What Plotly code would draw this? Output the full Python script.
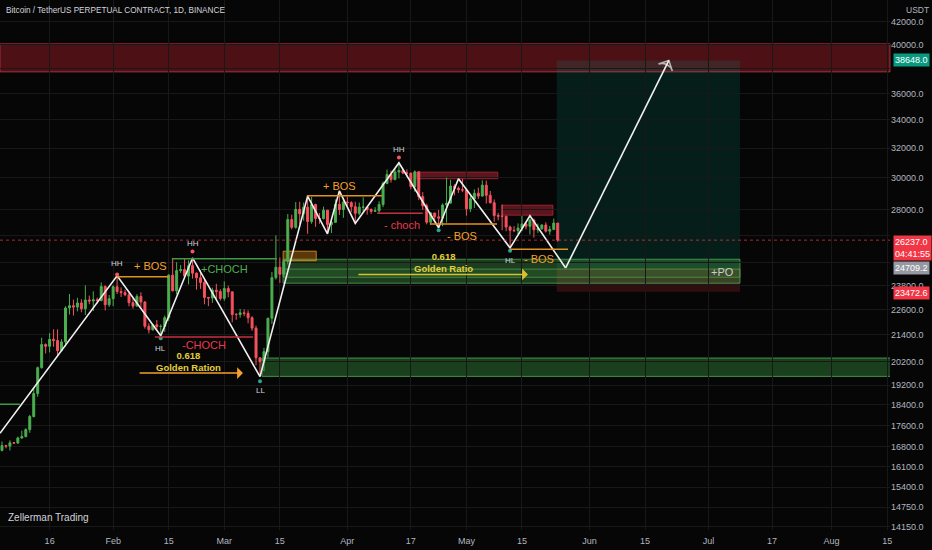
import numpy as np
import pandas as pd
import plotly.graph_objects as go

# BTCUSDT perp, daily candles 4 Jan - 24 May 2023
dates = pd.date_range('2023-01-04', '2023-05-24', freq='D')

opens = [
    16675, 16850, 16830, 16950, 16943, 17127, 17180, 17440, 17940, 18850, 19930, 20950, 20870, 21185,
    21130, 20675, 21070, 22670, 22780, 22710, 22915, 22630, 23060, 23010, 23075, 23030, 23740, 22825,
    23125, 23730, 23490, 23430, 23325, 22930, 22760, 23240, 22960, 21795, 21625, 21860, 21780, 21785,
    22200, 24330, 23520, 24570, 24630, 24280, 24835, 24435, 24190, 23945, 23190, 23160, 23555, 23490,
    23140, 23640, 23470, 22355, 22350, 22430, 22410, 22195, 21705, 20360, 20190, 20630, 22170, 24200,
    24750, 24380, 25055, 27430, 26970, 28040, 27770, 28170, 27310, 28330, 27490, 27490, 27990, 27140,
    27265, 28350, 28030,
    28480, 28450, 28200, 27800, 28170, 28170, 28030, 27920, 27950, 28330, 29650, 30230, 29890, 30390,
    30490, 30320, 30320, 29450, 30400, 28820, 28250, 27270, 27820, 27590, 27510, 28300, 28420, 29480,
    29340, 29250,
    29230, 28070, 28680, 29030, 28850, 29540, 28900, 28440, 27670, 27630, 27620, 26990, 26800, 26780,
    26930, 27170, 27030, 27400, 26830, 26890, 27110, 26750, 26850, 27220,
]
highs = [
    17000, 16880, 17040, 16980, 17180, 17400, 17490, 18000, 19100, 19980, 21260, 21000, 21470, 21650,
    21650, 21190, 22750, 23360, 23080, 23170, 23100, 23800, 23280, 23500, 23180, 23950, 23800, 23310,
    23800, 24250, 23700, 23580, 23440, 23160, 23350, 23450, 23010, 21930, 21890, 22090, 21880, 22300,
    24380, 25250, 25020, 24870, 25190, 25120, 25250, 24470, 24600, 24130, 23210, 23680, 23880, 23600,
    24000, 23780, 23480, 22420, 22620, 22600, 22550, 22270, 21820, 20370, 20800, 22200, 24500, 26500,
    25270, 25200, 27760, 27720, 28480, 28500, 28450, 28850, 28800, 28380, 27820, 28200, 28000, 27500,
    28650, 29180, 28650,
    28820, 28530, 28500, 28450, 28780, 28190, 28100, 28170, 28530, 29770, 30550, 30480, 30600, 31000,
    30620, 30560, 30330, 30490, 30410, 29100, 28380, 27880, 27820, 28000, 28400, 30020, 29880, 29600,
    29450, 29950,
    29330, 28880, 29270, 29380, 29850, 29830, 29170, 28640, 27830, 28330, 27650, 27070, 27040, 27200,
    27650, 27270, 27480, 27480, 27190, 27150, 27270, 27050, 27480, 27220,
]
lows = [
    16640, 16750, 16675, 16910, 16910, 17100, 17150, 17320, 17900, 18720, 19890, 20550, 20600, 20850,
    20400, 20660, 20860, 22350, 22300, 22500, 22460, 22330, 22850, 22520, 22880, 23000, 22550, 22720,
    22760, 23360, 23210, 23250, 22750, 22630, 22740, 22680, 21680, 21460, 21590, 21630, 21350, 21530,
    22050, 23500, 23340, 24450, 24220, 23850, 24150, 23580, 23620, 22850, 22760, 22920, 23100, 23030,
    23020, 23200, 21980, 22100, 22200, 22270, 21930, 21580, 20040, 19550, 19780, 20370, 21900, 24100,
    23930, 24220, 24900, 26850, 26890, 27160, 27360, 26600, 27180, 27000, 27180, 27430, 26600, 26640,
    27240, 27700, 27530,
    28250, 27860, 27200, 27680, 27830, 27720, 27770, 27880, 27800, 28170, 29600, 29700, 29880, 29970,
    30240, 30120, 29280, 29120, 28600, 28000, 27150, 27130, 27350, 26950, 27040, 27250, 28380, 28900,
    29050, 29100,
    27660, 27880, 28120, 28680, 28820, 28390, 28400, 27300, 27380, 26800, 26750, 25800, 26700, 26580,
    26750, 26850, 26560, 26380, 26650, 26830, 26670, 26550, 26810, 26150,
]
closes = [
    16850, 16830, 16950, 16943, 17127, 17180, 17440, 17940, 18850, 19930, 20950, 20870, 21185, 21130,
    20675, 21070, 22670, 22780, 22710, 22915, 22630, 23060, 23010, 23075, 23030, 23740, 22825, 23125,
    23730, 23490, 23430, 23325, 22930, 22760, 23240, 22960, 21795, 21625, 21860, 21780, 21785, 22200,
    24330, 23520, 24570, 24630, 24280, 24835, 24435, 24190, 23945, 23190, 23160, 23555, 23490, 23140,
    23640, 23470, 22355, 22350, 22430, 22410, 22195, 21705, 20360, 20190, 20630, 22170, 24200, 24750,
    24380, 25055, 27430, 26970, 28040, 27770, 28170, 27310, 28330, 27490, 27490, 27990, 27140, 27265,
    28350, 28030, 28480,
    28450, 28200, 27800, 28170, 28170, 28030, 27920, 27950, 28330, 29650, 30230, 29890, 30390, 30490,
    30320, 30320, 29450, 30400, 28820, 28250, 27270, 27820, 27590, 27510, 28300, 28420, 29480, 29340,
    29250, 29230,
    28070, 28680, 29030, 28850, 29540, 28900, 28440, 27670, 27630, 27620, 26990, 26800, 26780, 26930,
    27170, 27030, 27400, 26830, 26890, 27110, 26750, 26850, 27220, 26237,
]

# market structure zig-zag drawn by the author
zz_dates = ['2023-01-03 12:00', '2023-02-02', '2023-02-13', '2023-02-21', '2023-03-10', '2023-03-22',
            '2023-03-27', '2023-03-30', '2023-04-03', '2023-04-14', '2023-04-24', '2023-04-29',
            '2023-05-12', '2023-05-17', '2023-05-26']
zz_prices = [17300, 24300, 21350, 25250, 19550, 28850, 26600, 29180, 27200, 31000, 26950, 29950,
             25800, 27650, 24709.2]
target_date = '2023-06-21'
target_price = 38648.0
entry_price = 24709.2
stop_price = 23472.6
last_price = 26237.0

# pivot labels
piv_text = ['HH', 'HL', 'HH', 'LL', 'HH', 'HL']
piv_dates = ['2023-02-02', '2023-02-13', '2023-02-21', '2023-03-10', '2023-04-14', '2023-05-12']
piv_label_prices = [24950, 20790, 26060, 18990, 31930, 25120]
dot_dates = ['2023-02-02', '2023-02-13', '2023-02-21', '2023-03-10', '2023-04-14', '2023-04-24', '2023-05-12']
dot_prices = [24370, 21240, 25600, 19360, 31350, 26800, 25640]
dot_colors = ['#f7525f', '#26a69a', '#f7525f', '#26a69a', '#f7525f', '#26a69a', '#26a69a']

# zones (price bands)
supply_zone = [37710, 40060]
demand_zone = [19560, 20350]
demand_start = '2023-03-10 12:00'
golden_zone = [23910, 25180]
golden_inner = [24220, 24650]
golden_start = '2023-03-15 19:00'
box_start = '2023-05-23 18:00'
box_end = '2023-07-08 22:00'
far_right = '2023-09-01'
ob_zone = ['2023-03-15 20:00', '2023-03-24 04:00', 25100, 25620]
bear_ob1 = ['2023-04-18 12:00', '2023-05-08 22:00', 29950, 30380]
bear_ob2 = ['2023-05-09 22:00', '2023-05-22 19:00', 27690, 28290]

# structure lines: start, end, price, colour
struct_lines = [
    ('2023-01-01', '2023-01-08 12:00', 18420, '#3f9a45'),
    ('2023-02-02', '2023-02-15', 24250, '#e0921f'),
    ('2023-02-15 19:00', '2023-03-14 07:00', 25200, '#3f9a45'),
    ('2023-02-11 12:00', '2023-03-08 06:00', 21290, '#c8303f'),
    ('2023-03-21 19:00', '2023-04-09 17:00', 28880, '#e0921f'),
    ('2023-04-08 12:00', '2023-04-20 00:00', 27810, '#c8303f'),
    ('2023-04-21 19:00', '2023-05-08 17:00', 27160, '#e0921f'),
    ('2023-05-12 00:00', '2023-05-26 14:00', 25730, '#e0921f'),
]

# text notes
note_text = ['+ BOS', '+CHOCH', '-CHOCH', '+ BOS', '- choch', '- BOS', '- BOS', '+PO']
note_dates = ['2023-02-10 07:00', '2023-03-01', '2023-02-24', '2023-03-30', '2023-04-14 19:00',
              '2023-04-30', '2023-05-19 07:00', '2023-07-04 14:00']
note_prices = [24800, 24640, 20930, 29470, 27100, 26460, 25180, 24480]
note_colors = ['#f5a02a', '#4caf50', '#e8384f', '#f5a02a', '#e8384f', '#f5a02a', '#f5a02a', '#c8cbd2']

fib_text = ['<b>0.618<br>Golden Ration</b>', '<b>0.618<br>Golden Ratio</b>']
fib_dates = ['2023-02-20', '2023-04-25 07:00']
fib_prices = [20180, 24980]
fib_arrows = [('2023-02-07 07:00', '2023-03-05 17:00', 19700, '#f5a02a'),
              ('2023-04-03 10:00', '2023-05-16 12:00', 24370, '#d8c22c')]

x_ticks = ['2023-01-16', '2023-02-01', '2023-02-15', '2023-03-01', '2023-03-15', '2023-04-01',
           '2023-04-17', '2023-05-01', '2023-05-15', '2023-06-01', '2023-06-15', '2023-07-01',
           '2023-07-17', '2023-08-01', '2023-08-15']
x_labels = ['16', 'Feb', '15', 'Mar', '15', 'Apr', '17', 'May', '15', 'Jun', '15', 'Jul', '17', 'Aug', '15']
y_ticks = [42000, 40000, 38000, 36000, 34000, 32000, 30000, 28000, 26500, 25000, 23800, 22600,
           21400, 20200, 19200, 18400, 17600, 16800, 16100, 15400, 14750, 14150]
# tick labels that sit under the price tags
y_hidden = [38000, 26500, 25000]

FONT = 'Liberation Sans'
BG = '#060606'

fig = go.Figure()

fig.add_trace(go.Candlestick(
    x=dates, open=opens, high=highs, low=lows, close=closes,
    increasing=dict(line=dict(color='#4caf50', width=1), fillcolor='#4caf50'),
    decreasing=dict(line=dict(color='#f7525f', width=1), fillcolor='#f7525f'),
    whiskerwidth=0, hoverinfo='skip',
))

# zig-zag
fig.add_trace(go.Scatter(x=zz_dates, y=zz_prices, mode='lines',
                         line=dict(color='#f0f0f0', width=1.6), hoverinfo='skip'))
fig.add_trace(go.Scatter(
    x=[zz_dates[-1], target_date], y=[zz_prices[-1], target_price], mode='lines+markers',
    line=dict(color='#f0f0f0', width=1.6),
    marker=dict(symbol='arrow-wide-open', size=[0, 11], angleref='previous',
                color='#f0f0f0', line=dict(color='#f0f0f0', width=1.5)),
    hoverinfo='skip'))

# pivot dots
fig.add_trace(go.Scatter(x=dot_dates, y=dot_prices, mode='markers',
                         marker=dict(size=4, color=dot_colors), hoverinfo='skip'))


def band(x0, x1, p0, p1, fill, line, xref='x', width=1):
    fig.add_shape(type='rect', xref=xref, yref='y', x0=x0, x1=x1, y0=p0, y1=p1,
                  fillcolor=fill, line=dict(color=line, width=width), layer='below')


band(0, 1, supply_zone[0], supply_zone[1], 'rgba(120,22,30,0.62)', 'rgba(210,60,75,0.7)', xref='paper')
band(box_start, box_end, entry_price, target_price, 'rgba(8,153,129,0.16)', 'rgba(0,0,0,0)', width=0)
band(box_start, box_end, stop_price, entry_price, 'rgba(242,54,69,0.18)', 'rgba(0,0,0,0)', width=0)
band(golden_start, box_end, golden_zone[0], golden_zone[1], 'rgba(76,175,80,0.33)', 'rgba(90,180,95,0.7)')
band(golden_start, box_end, golden_inner[0], golden_inner[1], 'rgba(76,175,80,0.12)', 'rgba(90,180,95,0.6)')
band(demand_start, far_right, demand_zone[0], demand_zone[1], 'rgba(56,142,60,0.42)', 'rgba(80,170,85,0.8)')
band(ob_zone[0], ob_zone[1], ob_zone[2], ob_zone[3], 'rgba(230,140,20,0.38)', 'rgba(230,150,30,0.8)')
band(bear_ob1[0], bear_ob1[1], bear_ob1[2], bear_ob1[3], 'rgba(150,30,45,0.6)', 'rgba(170,40,55,0.8)')
band(bear_ob2[0], bear_ob2[1], bear_ob2[2], bear_ob2[3], 'rgba(150,30,45,0.6)', 'rgba(170,40,55,0.8)')

for x0, x1, p, c in struct_lines:
    fig.add_shape(type='line', x0=x0, x1=x1, y0=p, y1=p, line=dict(color=c, width=1.5))

# last price dotted line
fig.add_shape(type='line', xref='paper', x0=0, x1=1, y0=last_price, y1=last_price,
              line=dict(color='rgba(242,54,69,0.7)', width=1, dash='dot'))

for t, d, p in zip(piv_text, piv_dates, piv_label_prices):
    fig.add_annotation(x=d, y=np.log10(p), text=t, showarrow=False,
                       font=dict(family=FONT, size=8, color='#d1d4dc'))
for t, d, p, c in zip(note_text, note_dates, note_prices, note_colors):
    fig.add_annotation(x=d, y=np.log10(p), text=t, showarrow=False,
                       font=dict(family=FONT, size=11, color=c))
for t, d, p in zip(fib_text, fib_dates, fib_prices):
    fig.add_annotation(x=d, y=np.log10(p), text=t, showarrow=False,
                       font=dict(family=FONT, size=9.5, color='#e3cf3c'))
for x0, x1, p, c in fib_arrows:
    fig.add_annotation(x=x1, y=np.log10(p), ax=x0, ay=np.log10(p), axref='x', ayref='y',
                       text='', showarrow=True, arrowhead=1, arrowsize=1.3, arrowwidth=1.5,
                       arrowcolor=c)

# right-axis price tags
tags = [(target_price, '38648.0', '#089981', '#ffffff', 'middle', 0),
        (last_price, '26237.0<br>04:41:55', '#f23645', '#ffffff', 'top', 5),
        (entry_price, '24709.2', '#9598a1', '#ffffff', 'middle', 0),
        (stop_price, '23472.6', '#f23645', '#ffffff', 'middle', -1)]
for p, t, bg, fc, ya, ys in tags:
    fig.add_annotation(xref='paper', x=1, y=np.log10(p), text=t, showarrow=False,
                       xanchor='left', xshift=3, yanchor=ya, yshift=ys, align='left',
                       bgcolor=bg, borderpad=1,
                       font=dict(family=FONT, size=9, color=fc))

fig.add_annotation(xref='paper', yref='paper', x=0, y=1, xanchor='left', yanchor='top',
                   xshift=4, yshift=-4, showarrow=False,
                   text='Bitcoin / TetherUS PERPETUAL CONTRACT, 1D, BINANCE',
                   font=dict(family=FONT, size=8.2, color='#d1d4dc'))
fig.add_annotation(xref='paper', yref='paper', x=1, y=1, xanchor='left', yanchor='top',
                   xshift=14, yshift=-3, showarrow=False, text='USDT',
                   font=dict(family=FONT, size=8.5, color='#b2b5be'))
fig.add_annotation(xref='paper', yref='paper', x=0, y=0, xanchor='left', yanchor='bottom',
                   xshift=6, yshift=5, showarrow=False, text='Zellerman Trading',
                   font=dict(family=FONT, size=10, color='#d1d4dc'))

fig.update_layout(
    width=932, height=550,
    margin=dict(l=0, r=42, t=0, b=20),
    paper_bgcolor=BG, plot_bgcolor=BG,
    showlegend=False,
)
fig.update_xaxes(
    range=['2023-01-03 12:00', '2023-08-15 17:00'],
    tickvals=x_ticks, ticktext=x_labels,
    showgrid=True, gridcolor='#181818', gridwidth=1,
    zeroline=False, showline=False, ticks='', ticklabelstandoff=4,
    tickfont=dict(family=FONT, size=9, color='#b2b5be'),
    rangeslider=dict(visible=False),
)
fig.update_yaxes(
    type='log', side='right',
    range=[np.log10(14046), np.log10(44030)],
    tickvals=y_ticks,
    ticktext=['' if v in y_hidden else f'{v}.0' for v in y_ticks],
    showgrid=True, gridcolor='#181818', gridwidth=1,
    zeroline=False, showline=False, ticks='',
    tickfont=dict(family=FONT, size=9, color='#b2b5be'),
)

fig.write_html('out.html', config={'displayModeBar': False},
               post_script="document.body.style.margin='0';")
